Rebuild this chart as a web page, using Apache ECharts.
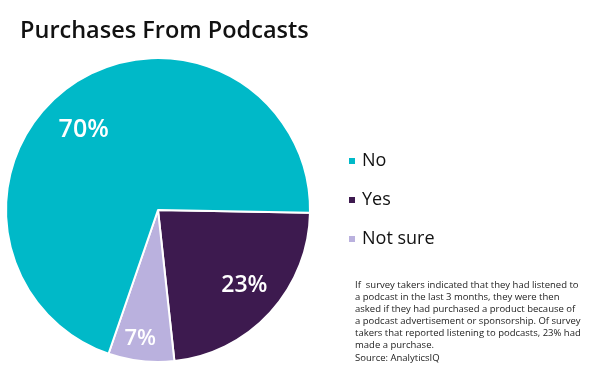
<!DOCTYPE html>
<html><head><meta charset="utf-8">
<script src="https://cdn.jsdelivr.net/npm/echarts@6/dist/echarts.min.js"></script>
<style>html,body{margin:0;padding:0;background:#fff}#c{width:600px;height:375px}</style>
</head><body><div id="c"></div>
<script>
const categories = ['Yes', 'Not sure', 'No'];
const values = [23, 7, 70];
const legendOrder = ['No', 'Yes', 'Not sure'];
const colors = {'Yes': '#3d1a4f', 'Not sure': '#bab1de', 'No': '#00b9c8'};
const titleText = 'Purchases From Podcasts';
const noteText = 'If  survey takers indicated that they had listened to\na podcast in the last 3 months, they were then\nasked if they had purchased a product because of\na podcast advertisement or sponsorship. Of survey\ntakers that reported listening to podcasts, 23% had\nmade a purchase.';
const sourceText = 'Source: AnalyticsIQ';

const labelSizes = {'Yes': 23, 'Not sure': 22, 'No': 25};
const labelShift = {'Yes': [28, 22], 'Not sure': [-9, 50], 'No': [-29, -15]};

const chart = echarts.init(document.getElementById('c'));
chart.setOption({
  animation: false,
  title: [
    {text: titleText, left: 15, top: 14,
     textStyle: {fontFamily: 'Open Sans', fontWeight: 600, fontSize: 23.5, color: '#111'}},
    {text: noteText, left: 350, top: 274,
     textStyle: {fontFamily: 'Open Sans', fontWeight: 'normal', fontSize: 9.5, lineHeight: 12, color: '#222'}},
    {text: sourceText, left: 350, top: 347,
     textStyle: {fontFamily: 'Open Sans', fontWeight: 'normal', fontSize: 9.5, lineHeight: 12, color: '#222'}}
  ],
  legend: {
    orient: 'vertical', left: 342, top: 146,
    data: legendOrder,
    icon: 'rect', itemWidth: 8, itemHeight: 8, itemGap: 19,
    textStyle: {fontFamily: 'Open Sans', fontSize: 18, lineHeight: 20, color: '#111', padding: [0, 0, 0, 1]}
  },
  series: [{
    type: 'pie',
    center: [158, 210],
    radius: [0, 152],
    startAngle: -1,
    clockwise: true,
    avoidLabelOverlap: false,
    itemStyle: {borderColor: '#fff', borderWidth: 2},
    label: {
      show: true, position: 'inside', formatter: '{c}%',
      color: '#fff', fontFamily: 'Open Sans', fontWeight: 600
    },
    labelLine: {show: false},
    labelLayout: function (p) {
      const name = categories[p.dataIndex];
      return {dx: labelShift[name][0], dy: labelShift[name][1]};
    },
    emphasis: {disabled: true},
    data: categories.map((n, i) => ({
      name: n, value: values[i],
      itemStyle: {color: colors[n]},
      label: {fontSize: labelSizes[n]}
    }))
  }]
});
</script></body></html>
